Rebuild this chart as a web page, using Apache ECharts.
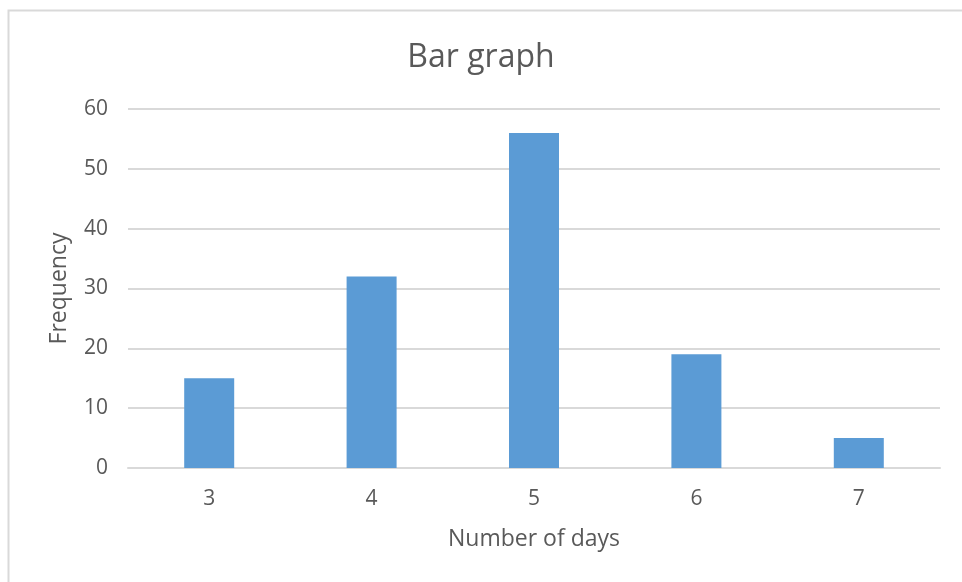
<!DOCTYPE html>
<html><head><meta charset="utf-8">
<script src="https://cdn.jsdelivr.net/npm/echarts@6/dist/echarts.min.js"></script>
<style>html,body{margin:0;padding:0;background:#fff}#c{width:962px;height:582px}</style>
</head><body><div id="c"></div>
<script>
const categories = ['3', '4', '5', '6', '7'];
const frequency = [15, 32, 56, 19, 5];
const titleText = 'Bar graph';
const xName = 'Number of days';
const yName = 'Frequency';

const chart = echarts.init(document.getElementById('c'));
const font = '"Open Sans", "Noto Sans", sans-serif';
chart.setOption({
  animation: false,
  backgroundColor: '#fff',
  graphic: [{
    type: 'polyline',
    shape: { points: [[8.5, 600], [8.5, 10.5], [1000, 10.5]] },
    style: { stroke: '#d9d9d9', lineWidth: 2, fill: null },
    silent: true
  }],
  title: {
    text: titleText, left: 'center', top: 37,
    textStyle: { fontFamily: font, fontSize: 32, fontWeight: 'normal', color: '#595959' }
  },
  grid: { left: 128, right: 22, top: 109, bottom: 114, containLabel: false },
  xAxis: {
    type: 'category', data: categories,
    name: xName, nameLocation: 'middle', nameGap: 60,
    nameTextStyle: { fontFamily: font, fontSize: 23, color: '#595959' },
    axisLine: { lineStyle: { color: '#d9d9d9', width: 2 } },
    axisTick: { show: false },
    axisLabel: { fontFamily: font, fontSize: 21, color: '#595959', margin: 21 }
  },
  yAxis: {
    type: 'value', min: 0, max: 60, interval: 10,
    name: yName, nameLocation: 'middle', nameGap: 57,
    nameTextStyle: { fontFamily: font, fontSize: 23, color: '#595959' },
    axisLine: { show: false }, axisTick: { show: false },
    axisLabel: { fontFamily: font, fontSize: 21, color: '#595959', margin: 20 },
    splitLine: { lineStyle: { color: '#d9d9d9', width: 2 } }
  },
  series: [{
    type: 'bar', data: frequency, barWidth: 50,
    itemStyle: { color: '#5b9bd5' }
  }]
});
</script></body></html>
